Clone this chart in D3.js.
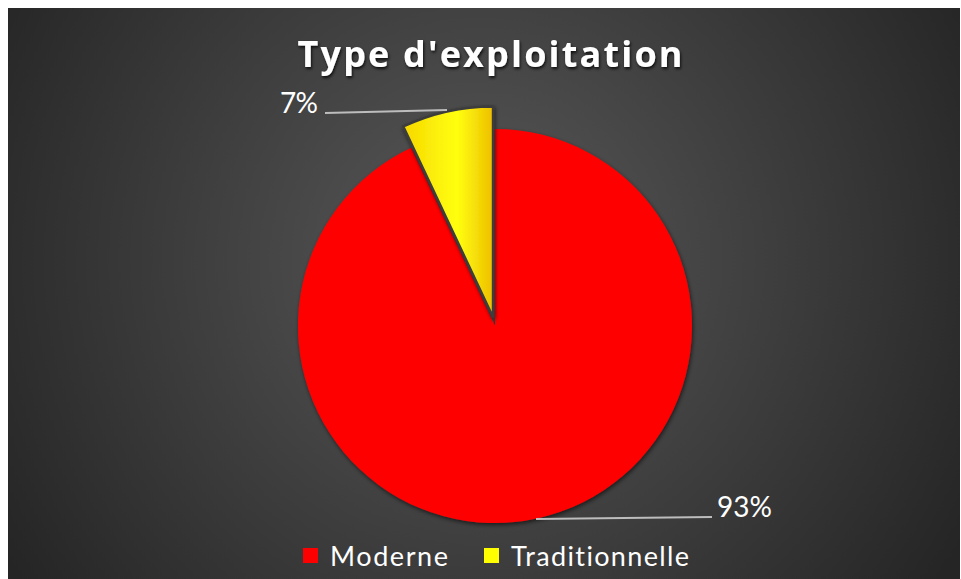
<!DOCTYPE html>
<html><head><meta charset="utf-8">
<script src="https://cdn.jsdelivr.net/npm/d3@7"></script>
<style>html,body{margin:0;padding:0;background:#fff;}svg{display:block;}text{font-variant-ligatures:none;font-feature-settings:"liga" 0;}</style>
</head><body>
<script>
const title = "Type d'exploitation";
const categories = ["Moderne", "Traditionnelle"];
const values = [93, 7];
const colors = ["#ff0000", "#ffff00"];
const labels = ["93%", "7%"];

const W = 961, H = 579;
const svg = d3.select("body").append("svg").attr("width", W).attr("height", H);
const defs = svg.append("defs");

const bg = defs.append("radialGradient").attr("id", "bg").attr("gradientUnits", "userSpaceOnUse")
  .attr("cx", 480).attr("cy", 260).attr("r", 560);
bg.append("stop").attr("offset", "0%").attr("stop-color", "#595959");
bg.append("stop").attr("offset", "100%").attr("stop-color", "#252525");

const yg = defs.append("linearGradient").attr("id", "yg").attr("x1", "0%").attr("y1", "0%").attr("x2", "100%").attr("y2", "0%");
yg.append("stop").attr("offset", "0%").attr("stop-color", "#f7d800");
yg.append("stop").attr("offset", "60%").attr("stop-color", "#ffff10");
yg.append("stop").attr("offset", "100%").attr("stop-color", "#eebf00");

const sh = defs.append("filter").attr("id", "sh").attr("x", "-20%").attr("y", "-20%").attr("width", "140%").attr("height", "140%");
sh.append("feDropShadow").attr("dx", 1).attr("dy", 2).attr("stdDeviation", 2).attr("flood-color", "#000").attr("flood-opacity", 0.6);
const tsh = defs.append("filter").attr("id", "tsh");
tsh.append("feDropShadow").attr("dx", 1).attr("dy", 2).attr("stdDeviation", 1.5).attr("flood-color", "#000").attr("flood-opacity", 0.8);

svg.append("rect").attr("x", 8).attr("y", 8).attr("width", W - 9).attr("height", H - 8).attr("fill", "url(#bg)");

function fitText(sel, width) {
  sel.attr("textLength", width).attr("lengthAdjust", "spacing");
}

svg.append("text").attr("x", 490).attr("y", 67).attr("text-anchor", "middle")
  .attr("font-family", "'Open Sans', Lato, sans-serif").attr("font-weight", "bold").attr("font-size", 36)
  .attr("fill", "#fff").attr("filter", "url(#tsh)").text(title).call(fitText, 385);

const cx = 495, cy = 326, r = 197;
const pie = d3.pie().sort(null).value(d => d)(values);
const arc = d3.arc().innerRadius(0);

const g = svg.append("g").attr("transform", `translate(${cx},${cy})`);
pie.forEach((p, i) => {
  const mid = (p.startAngle + p.endAngle) / 2;
  const explode = i === 1 ? 9 : 0;
  const rr = i === 1 ? r * 1.07 : r;
  const dx = Math.sin(mid) * explode, dy = -Math.cos(mid) * explode;
  g.append("path")
    .attr("d", arc.outerRadius(rr)(p))
    .attr("transform", `translate(${dx},${dy})`)
    .attr("fill", i === 1 ? "url(#yg)" : colors[i])
    .attr("stroke", i === 1 ? "#3c3c3c" : "none")
    .attr("stroke-width", i === 1 ? 2.5 : 0)
    .attr("filter", "url(#sh)");
});

const font = "Lato, 'Open Sans', sans-serif";
const lbl = svg.append("g").attr("font-family", font).attr("fill", "#fff");
svg.append("line").attr("x1", 536).attr("y1", 519).attr("x2", 712).attr("y2", 517)
  .attr("stroke", "#bdbdbd").attr("stroke-width", 2);
lbl.append("text").attr("x", 717).attr("y", 517).attr("font-size", 28).text(labels[0]).call(fitText, 55);
svg.append("line").attr("x1", 325).attr("y1", 113).attr("x2", 447).attr("y2", 110)
  .attr("stroke", "#bdbdbd").attr("stroke-width", 2);
lbl.append("text").attr("x", 280).attr("y", 113).attr("font-size", 28).text(labels[1]).call(fitText, 38);

const legX = [303, 484], legW = [118, 178];
const leg = svg.append("g").attr("font-family", font);
categories.forEach((c, i) => {
  leg.append("rect").attr("x", legX[i]).attr("y", 548).attr("width", 15).attr("height", 15).attr("fill", colors[i]);
  leg.append("text").attr("x", legX[i] + 27).attr("y", 566).attr("font-size", 27).attr("fill", "#fff")
    .text(c).call(fitText, legW[i]);
});
</script>
</body></html>
